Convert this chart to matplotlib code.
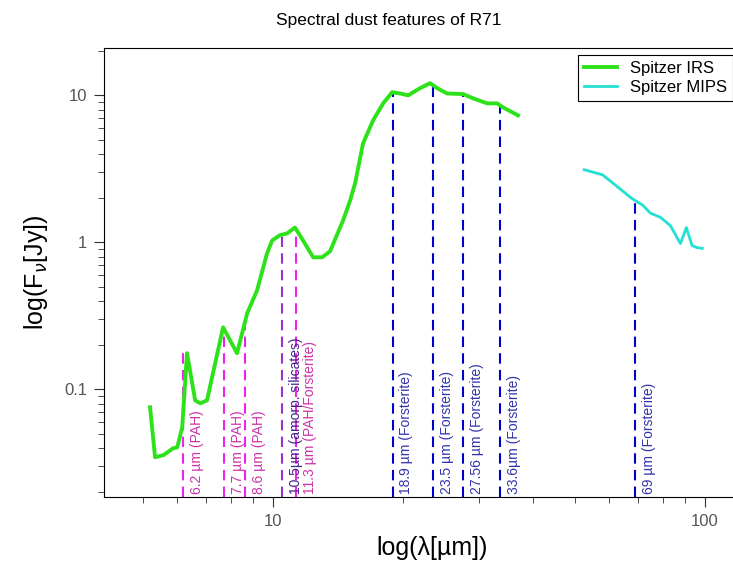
import numpy as np
import matplotlib
matplotlib.use("Agg")
import matplotlib.pyplot as plt
from matplotlib import transforms

plt.rcParams['font.family'] = ['Liberation Sans', 'DejaVu Sans']

# Spitzer IRS spectrum (wavelength in micron, flux in Jy)
irs_wave = [5.19, 5.33, 5.57, 5.87, 6.0, 6.16, 6.32, 6.60, 6.78, 7.03, 7.66, 8.25,
            8.71, 9.18, 9.68, 9.95, 10.38, 10.77, 11.24, 11.73, 12.38, 12.99, 13.55,
            14.52, 15.08, 15.48, 16.15, 17.04, 17.98, 18.86, 19.68, 20.54, 21.89,
            23.09, 23.97, 25.28, 27.54, 29.04, 31.29, 33.0, 34.07, 36.9]
irs_flux = [0.0755, 0.0345, 0.0356, 0.0397, 0.0403, 0.0551, 0.176, 0.0841, 0.0803,
            0.0841, 0.264, 0.176, 0.329, 0.471, 0.841, 1.03, 1.12, 1.15, 1.26, 1.03,
            0.791, 0.791, 0.87, 1.41, 1.93, 2.52, 4.71, 6.76, 8.82, 10.5, 10.3, 10.0,
            11.2, 12.1, 11.2, 10.3, 10.2, 9.54, 8.82, 8.82, 8.28, 7.31]

# Spitzer MIPS spectrum
mips_wave = [52.5, 57.9, 61.9, 67.5, 71.7, 74.7, 78.8, 83.1, 87.7, 90.5, 93.3, 95.8, 98.5]
mips_flux = [3.12, 2.88, 2.46, 2.00, 1.79, 1.58, 1.48, 1.30, 0.98, 1.26, 0.95, 0.92, 0.91]

# dust features
pah_wave = [6.2, 7.7, 8.6, 10.5, 11.3]
pah_top = [0.176, 0.264, 0.318, 1.10, 1.26]
pah_text = ['6.2 µm (PAH)', '7.7 µm (PAH)', '8.6 µm (PAH)',
            '10.5µm (amorp. silicates)', '11.3 µm (PAH/Forsterite)']
fo_wave = [18.9, 23.5, 27.56, 33.6, 69]
fo_top = [10.5, 12.1, 10.2, 8.8, 1.93]
fo_text = ['18.9 µm (Forsterite)', '23.5 µm (Forsterite)', '27.56 µm (Forsterite)',
           '33.6µm (Forsterite)', '69 µm (Forsterite)']

W, H = 733, 563
fig = plt.figure(figsize=(W / 100, H / 100), dpi=100)
ax = fig.add_axes([104 / W, 1 - 497 / H, (760 - 104) / W, (497 - 48) / H])
ax.set_xscale('log')
ax.set_yscale('log')
ymin = 0.0185
ax.set_xlim(4.06, 134)
ax.set_ylim(ymin, 21)

ax.plot(irs_wave, irs_flux, color='#2ee21a', lw=2.8, label='Spitzer IRS', zorder=3)
ax.plot(mips_wave, mips_flux, color='#22e0d2', lw=2.0, label='Spitzer MIPS', zorder=3)

off = transforms.offset_copy(ax.transData, fig=fig, x=5, y=2, units='points')
line_cols = ['#ee22ee', '#ee22ee', '#ee22ee', '#9933cc', '#ee22ee']
text_cols = ['#cc33aa', '#cc33aa', '#cc33aa', '#442288', '#cc33aa']
for w, top, t, lc, tc in zip(pah_wave, pah_top, pah_text, line_cols, text_cols):
    ax.vlines(w, ymin, top, colors=lc, linestyles=(0, (5, 3)), lw=1.5, zorder=2)
    ax.text(w, ymin, t, rotation=90, ha='left', va='bottom', color=tc,
            fontsize=10, transform=off)
for w, top, t in zip(fo_wave, fo_top, fo_text):
    ax.vlines(w, ymin, top, colors='#0000cc', linestyles=(0, (5, 3)), lw=1.5, zorder=2)
    ax.text(w, ymin, t, rotation=90, ha='left', va='bottom', color='#3333aa',
            fontsize=10, transform=off)

ax.set_xticks([10, 100])
ax.set_xticklabels(['10', '100'])
ax.set_yticks([0.1, 1, 10])
ax.set_yticklabels(['0.1', '1', '10'])
ax.tick_params(which='both', direction='out', colors='#333333', labelcolor='#555555',
               labelsize=12)
ax.tick_params(which='major', length=7, pad=5)
ax.tick_params(which='minor', length=4)

ax.set_xlabel('log(λ[µm])', fontsize=18, labelpad=5)
ax.set_ylabel('log(F$_{\\nu}$[Jy])', fontsize=18, labelpad=10)
fig.text(389 / W, 1 - 20 / H, 'Spectral dust features of R71', ha='center',
         va='center', fontsize=12.5)

leg = ax.legend(loc='upper left', bbox_to_anchor=(578 / W, 1 - 55 / H),
                bbox_transform=fig.transFigure, fancybox=False, framealpha=1,
                edgecolor='black', fontsize=12, handlelength=2.0, borderpad=0.35,
                labelspacing=0.25, borderaxespad=0)
leg.get_frame().set_linewidth(0.8)

fig.savefig('out.png', dpi=100)
